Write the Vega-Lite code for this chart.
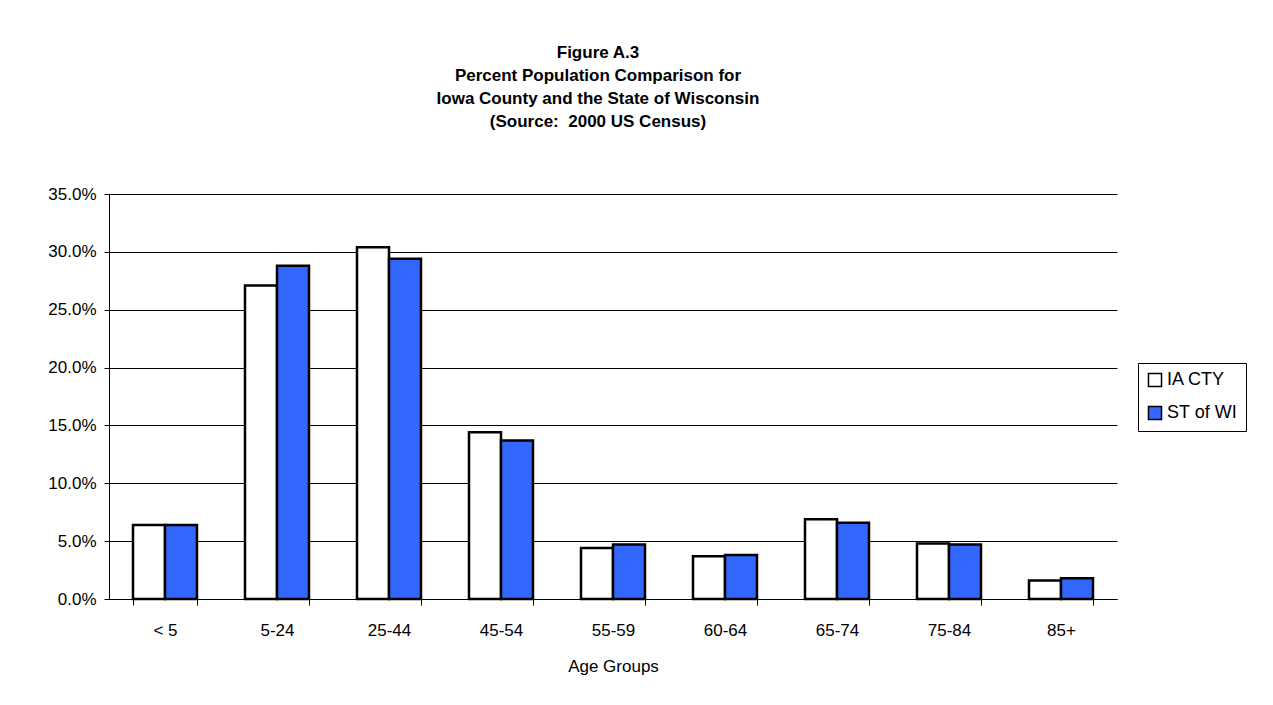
{
  "$schema": "https://vega.github.io/schema/vega-lite/v6.json",
  "width": 1008,
  "height": 405,
  "autosize": "none",
  "padding": {"left": 109, "top": 194, "right": 156, "bottom": 106},
  "background": "white",
  "title": {
    "text": ["Figure A.3", "Percent Population Comparison for", "Iowa County and the State of Wisconsin", "(Source:\u00a0\u00a02000 US Census)"],
    "font": "Liberation Sans",
    "fontSize": 17,
    "fontWeight": "bold",
    "lineHeight": 23,
    "anchor": "middle",
    "dx": -15,
    "offset": 54,
    "color": "black"
  },
  "data": {
    "values": [
      {"age": "< 5", "series": "IA CTY", "pct": 0.064},
      {"age": "< 5", "series": "ST of WI", "pct": 0.064},
      {"age": "5-24", "series": "IA CTY", "pct": 0.271},
      {"age": "5-24", "series": "ST of WI", "pct": 0.288},
      {"age": "25-44", "series": "IA CTY", "pct": 0.304},
      {"age": "25-44", "series": "ST of WI", "pct": 0.294},
      {"age": "45-54", "series": "IA CTY", "pct": 0.144},
      {"age": "45-54", "series": "ST of WI", "pct": 0.137},
      {"age": "55-59", "series": "IA CTY", "pct": 0.044},
      {"age": "55-59", "series": "ST of WI", "pct": 0.047},
      {"age": "60-64", "series": "IA CTY", "pct": 0.037},
      {"age": "60-64", "series": "ST of WI", "pct": 0.038},
      {"age": "65-74", "series": "IA CTY", "pct": 0.069},
      {"age": "65-74", "series": "ST of WI", "pct": 0.066},
      {"age": "75-84", "series": "IA CTY", "pct": 0.048},
      {"age": "75-84", "series": "ST of WI", "pct": 0.047},
      {"age": "85+", "series": "IA CTY", "pct": 0.016},
      {"age": "85+", "series": "ST of WI", "pct": 0.018}
    ]
  },
  "mark": {"type": "bar", "stroke": "black", "strokeWidth": 2.5},
  "encoding": {
    "x": {
      "field": "age",
      "type": "nominal",
      "sort": null,
      "scale": {"paddingInner": 0.4286, "paddingOuter": 0.2143},
      "axis": {
        "title": "Age Groups",
        "labelAngle": 0,
        "tickBand": "extent",
        "tickSize": 6,
        "tickColor": "black",
        "domainColor": "black",
        "labelFont": "Liberation Sans",
        "labelFontSize": 17,
        "labelColor": "black",
        "labelPadding": 17,
        "titleFont": "Liberation Sans",
        "titleFontSize": 17,
        "titleFontWeight": "normal",
        "titleColor": "black",
        "titlePadding": 20
      }
    },
    "xOffset": {"field": "series", "type": "nominal", "scale": {"paddingInner": 0, "paddingOuter": 0}},
    "y": {
      "field": "pct",
      "type": "quantitative",
      "scale": {"domain": [0, 0.35], "nice": false},
      "axis": {
        "title": null,
        "format": ".1%",
        "values": [0, 0.05, 0.1, 0.15, 0.2, 0.25, 0.3, 0.35],
        "grid": true,
        "gridColor": "black",
        "gridOpacity": 1,
        "tickColor": "black",
        "tickSize": 5,
        "domainColor": "black",
        "labelFont": "Liberation Sans",
        "labelFontSize": 17,
        "labelColor": "black",
        "labelPadding": 8
      }
    },
    "fill": {
      "field": "series",
      "type": "nominal",
      "scale": {"domain": ["IA CTY", "ST of WI"], "range": ["white", "#3366FF"]},
      "legend": {
        "title": null,
        "orient": "none",
        "legendX": 1029,
        "legendY": 169,
        "symbolType": "square",
        "symbolSize": 170,
        "symbolStrokeColor": "black",
        "symbolStrokeWidth": 1.5,
        "labelFont": "Liberation Sans",
        "labelFontSize": 18,
        "labelColor": "black",
        "labelOffset": 3,
        "rowPadding": 13,
        "strokeColor": "black",
        "fillColor": "white",
        "padding": 8
      }
    }
  },
  "config": {
    "view": {"stroke": null},
    "axis": {"domainWidth": 1, "gridWidth": 1}
  }
}
